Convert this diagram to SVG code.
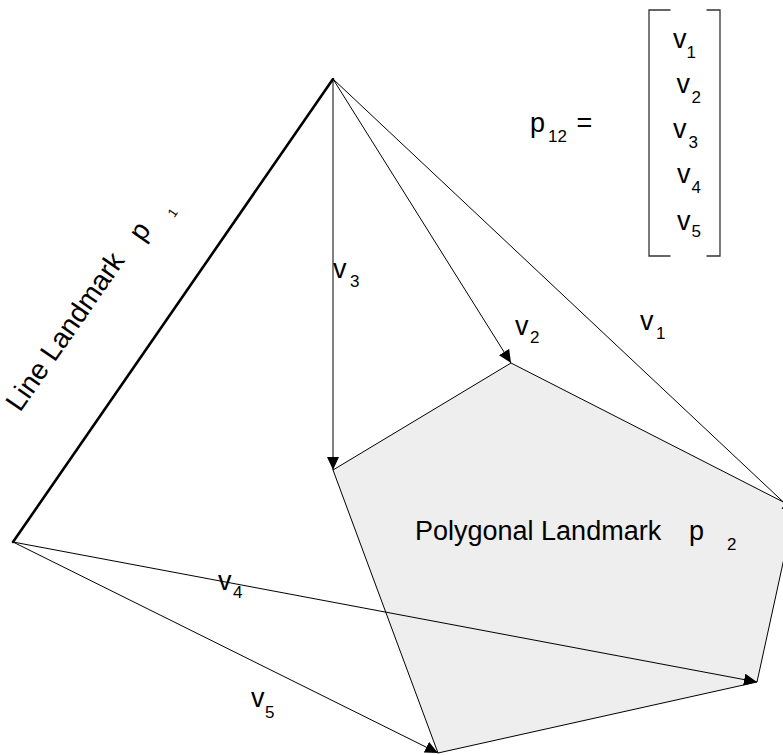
<svg xmlns="http://www.w3.org/2000/svg" width="783" height="755" viewBox="0 0 783 755">
<style>
text{font-family:"Liberation Sans",Arial,Helvetica,sans-serif;fill:#000}
.m{font-size:27px}
.s{font-size:17px}
.conn{stroke:#000;stroke-width:1;fill:none}
.br{stroke:#333;stroke-width:1.3;fill:none}
</style>
<defs>
<marker id="ah" markerUnits="userSpaceOnUse" markerWidth="14" markerHeight="12" refX="13" refY="6" orient="auto">
<path d="M0,0 L13,6 L0,12 Z" fill="#000"/>
</marker>
</defs>
<rect width="783" height="755" fill="#fff"/>
<g id="polygon-landmark">
<polygon points="333,470 511,363 795,508 757,682 438,753" fill="#eeeeee" stroke="#000" stroke-width="1"/>
<text class="m" x="415" y="540">Polygonal Landmark</text>
<text class="m" x="689" y="540">p</text>
<text class="s" x="727" y="550">2</text>
</g>
<g id="line-landmark">
<line x1="13" y1="542" x2="333" y2="79" stroke="#000" stroke-width="2.6" stroke-linecap="round"/>
<g transform="translate(20,413) rotate(-55.3)">
<text class="m" x="0" y="0" style="font-size:28px">Line Landmark</text>
<text class="m" x="210" y="4" style="font-size:28px">p</text>
<text class="s" x="248" y="16" style="font-size:13px">1</text>
</g>
</g>
<g id="connectors">
<line class="conn" x1="333" y1="79" x2="795" y2="513" marker-end="url(#ah)"/>
<line class="conn" x1="333" y1="79" x2="511" y2="363" marker-end="url(#ah)"/>
<line class="conn" x1="333" y1="79" x2="333" y2="470" marker-end="url(#ah)"/>
<line class="conn" x1="13" y1="542" x2="757" y2="682" marker-end="url(#ah)"/>
<line class="conn" x1="13" y1="542" x2="438" y2="753" marker-end="url(#ah)"/>
</g>
<g id="connector-labels">
<text class="m" x="333" y="278">v</text><text class="s" x="350" y="287">3</text>
<text class="m" x="515" y="335">v</text><text class="s" x="530" y="343">2</text>
<text class="m" x="640" y="330">v</text><text class="s" x="656" y="339">1</text>
<text class="m" x="218" y="590">v</text><text class="s" x="233" y="598">4</text>
<text class="m" x="251" y="707">v</text><text class="s" x="265" y="718">5</text>
</g>
<g id="vector-p12">
<text class="m" x="530" y="132">p</text>
<text class="s" x="548" y="142">12</text>
<text class="m" x="576.5" y="132">=</text>
<path class="br" d="M670.5,10 H649 V256 H670.5"/>
<path class="br" d="M706.5,10 H720 V256 H706.5"/>
<text class="m" x="673" y="48">v</text><text class="s" x="686.5" y="58">1</text>
<text class="m" x="676.5" y="93">v</text><text class="s" x="691.5" y="103">2</text>
<text class="m" x="673" y="138">v</text><text class="s" x="688.5" y="148">3</text>
<text class="m" x="677" y="183">v</text><text class="s" x="691.5" y="193">4</text>
<text class="m" x="677" y="230">v</text><text class="s" x="691.5" y="237">5</text>
</g>
</svg>
